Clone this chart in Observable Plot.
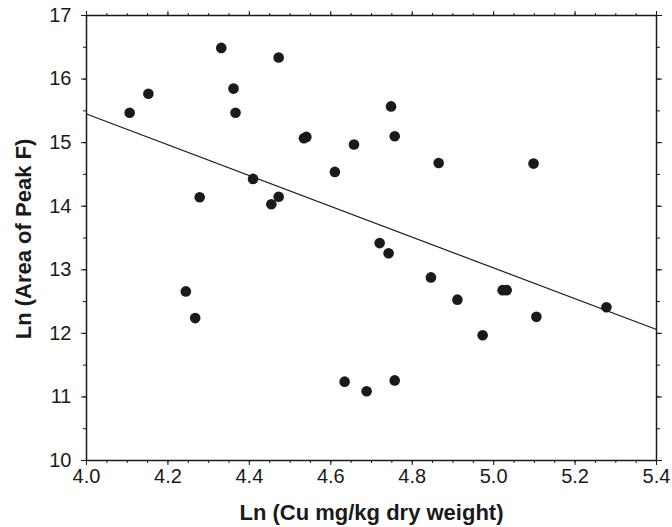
<!DOCTYPE html>
<html>
<head>
<meta charset="utf-8">
<script src="https://cdn.jsdelivr.net/npm/d3@7"></script>
<script src="https://cdn.jsdelivr.net/npm/@observablehq/plot@0.6"></script>
<style>
  html, body { margin: 0; padding: 0; background: #fff; }
  #chart { width: 672px; height: 527px; }
</style>
</head>
<body>
<div id="chart"></div>
<script>
// Data
const lnCu = [4.106, 4.152, 4.331, 4.361, 4.366, 4.472, 4.278, 4.409, 4.454, 4.472,
  4.534, 4.540, 4.610, 4.657, 4.748, 4.757, 4.865, 5.098, 4.720, 4.742,
  4.244, 4.267, 4.846, 4.911, 5.022, 5.032, 5.277, 5.105, 4.973, 4.634,
  4.688, 4.757];
const lnArea = [15.47, 15.77, 16.49, 15.85, 15.47, 16.34, 14.14, 14.43, 14.03, 14.15,
  15.07, 15.09, 14.54, 14.97, 15.57, 15.10, 14.68, 14.67, 13.42, 13.26,
  12.66, 12.24, 12.88, 12.53, 12.68, 12.68, 12.41, 12.26, 11.97, 11.24,
  11.09, 11.26];
// Regression line end points
const fitX = [4.0, 5.4];
const fitY = [15.45, 12.06];
// Ticks
const xMajorTicks = [4.0, 4.2, 4.4, 4.6, 4.8, 5.0, 5.2, 5.4];
const xMinorTicks = d3.range(0, 29).map(i => 4.0 + i * 0.05);
const yMajorTicks = [10, 11, 12, 13, 14, 15, 16, 17];
const yMinorTicks = d3.range(0, 15).map(i => 10 + i * 0.5);
const xTitle = "Ln (Cu mg/kg dry weight)";
const yTitle = "Ln (Area of Peak F)";

const points = lnCu.map((x, i) => ({x, y: lnArea[i]}));
const fit = fitX.map((x, i) => ({x, y: fitY[i]}));

const font = "'Liberation Sans', Arial, sans-serif";
const ink = "#1a1a1a";

const chart = Plot.plot({
  width: 672,
  height: 527,
  marginLeft: 86,
  marginRight: 16,
  marginTop: 15,
  marginBottom: 67,
  style: {fontFamily: font, color: ink, background: "#fff"},
  x: {domain: [4.0, 5.4]},
  y: {domain: [10, 17]},
  marks: [
    // minor ticks
    Plot.axisX({anchor: "bottom", ticks: xMinorTicks, tickSize: 3, text: null, label: null, stroke: ink}),
    Plot.axisX({anchor: "top", ticks: xMinorTicks, tickSize: 3, text: null, label: null, stroke: ink}),
    Plot.axisY({anchor: "left", ticks: yMinorTicks, tickSize: 3, text: null, label: null, stroke: ink}),
    Plot.axisY({anchor: "right", ticks: yMinorTicks, tickSize: 3, text: null, label: null, stroke: ink}),
    // major ticks
    Plot.axisX({anchor: "bottom", ticks: xMajorTicks, tickSize: 5, tickPadding: 3,
      tickFormat: d3.format(".1f"), fontSize: 20, label: null, stroke: ink, fill: ink}),
    Plot.axisX({anchor: "top", ticks: xMajorTicks, tickSize: 5, text: null, label: null, stroke: ink}),
    Plot.axisY({anchor: "left", ticks: yMajorTicks, tickSize: 5, tickPadding: 10,
      tickFormat: d3.format("d"), fontSize: 20, label: null, stroke: ink, fill: ink}),
    Plot.axisY({anchor: "right", ticks: yMajorTicks, tickSize: 5, text: null, label: null, stroke: ink}),
    Plot.frame({stroke: ink, strokeWidth: 1.5}),
    // regression line
    Plot.line(fit, {x: "x", y: "y", stroke: ink, strokeWidth: 1.2}),
    // data points
    Plot.dot(points, {x: "x", y: "y", r: 5.3, fill: ink, stroke: "none"}),
    // axis titles
    Plot.text([xTitle], {frameAnchor: "bottom", dy: 52, lineAnchor: "middle", textAnchor: "middle",
      fontSize: 22, fontWeight: "bold", fill: ink}),
    Plot.text([yTitle], {frameAnchor: "left", dx: -63, dy: 1, rotate: -90, lineAnchor: "middle",
      textAnchor: "middle", fontSize: 22, fontWeight: "bold", fill: ink})
  ]
});
document.getElementById("chart").appendChild(chart);
</script>
</body>
</html>
